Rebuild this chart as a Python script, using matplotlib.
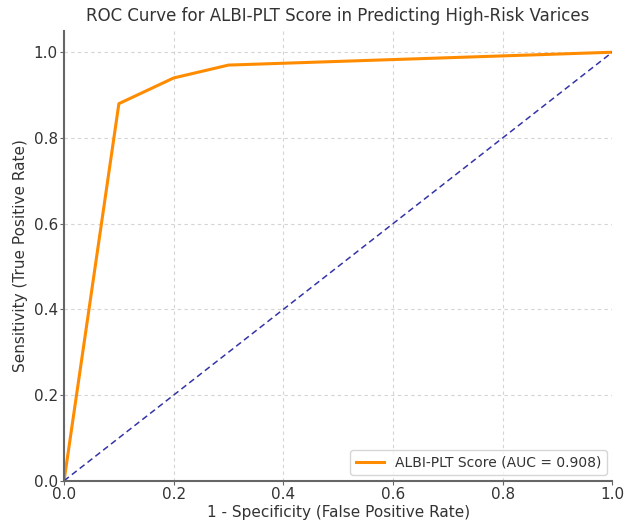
import matplotlib
matplotlib.use("Agg")
import matplotlib.pyplot as plt

fpr = [0.0, 0.1, 0.2, 0.3, 1.0]
tpr = [0.0, 0.88, 0.94, 0.97, 1.0]
label = "ALBI-PLT Score (AUC = 0.908)"
title = "ROC Curve for ALBI-PLT Score in Predicting High-Risk Varices"

fig = plt.figure(figsize=(6.28, 5.22), dpi=100)
ax = fig.add_axes([0.102, 0.079, 0.873, 0.862])
ax.plot(fpr, tpr, color="darkorange", lw=2.2, label=label)
ax.plot([0, 1], [0, 1], color="#3434a8", lw=1.1, ls=(0, (4, 2.5)))
ax.set_xlim(0, 1)
ax.set_ylim(0, 1.05)
ax.set_xlabel("1 - Specificity (False Positive Rate)", fontsize=11, color="#333333", labelpad=2)
ax.set_ylabel("Sensitivity (True Positive Rate)", fontsize=11, color="#333333", labelpad=4)
ax.set_title(title, fontsize=12, color="#333333", pad=7)
ax.grid(True, ls=(0, (3, 3)), color="#d4d4d4", lw=0.8)
for s in ["top", "right"]:
    ax.spines[s].set_visible(False)
for s in ["left", "bottom"]:
    ax.spines[s].set_color("#666666")
    ax.spines[s].set_linewidth(1.5)
ax.tick_params(labelsize=11, colors="#333333", pad=1.5, length=3, color="#666666")
leg = ax.legend(loc="lower right", fontsize=10, borderaxespad=0.4)
leg.get_texts()[0].set_color("#333333")
fig.savefig("out.png", dpi=100)
